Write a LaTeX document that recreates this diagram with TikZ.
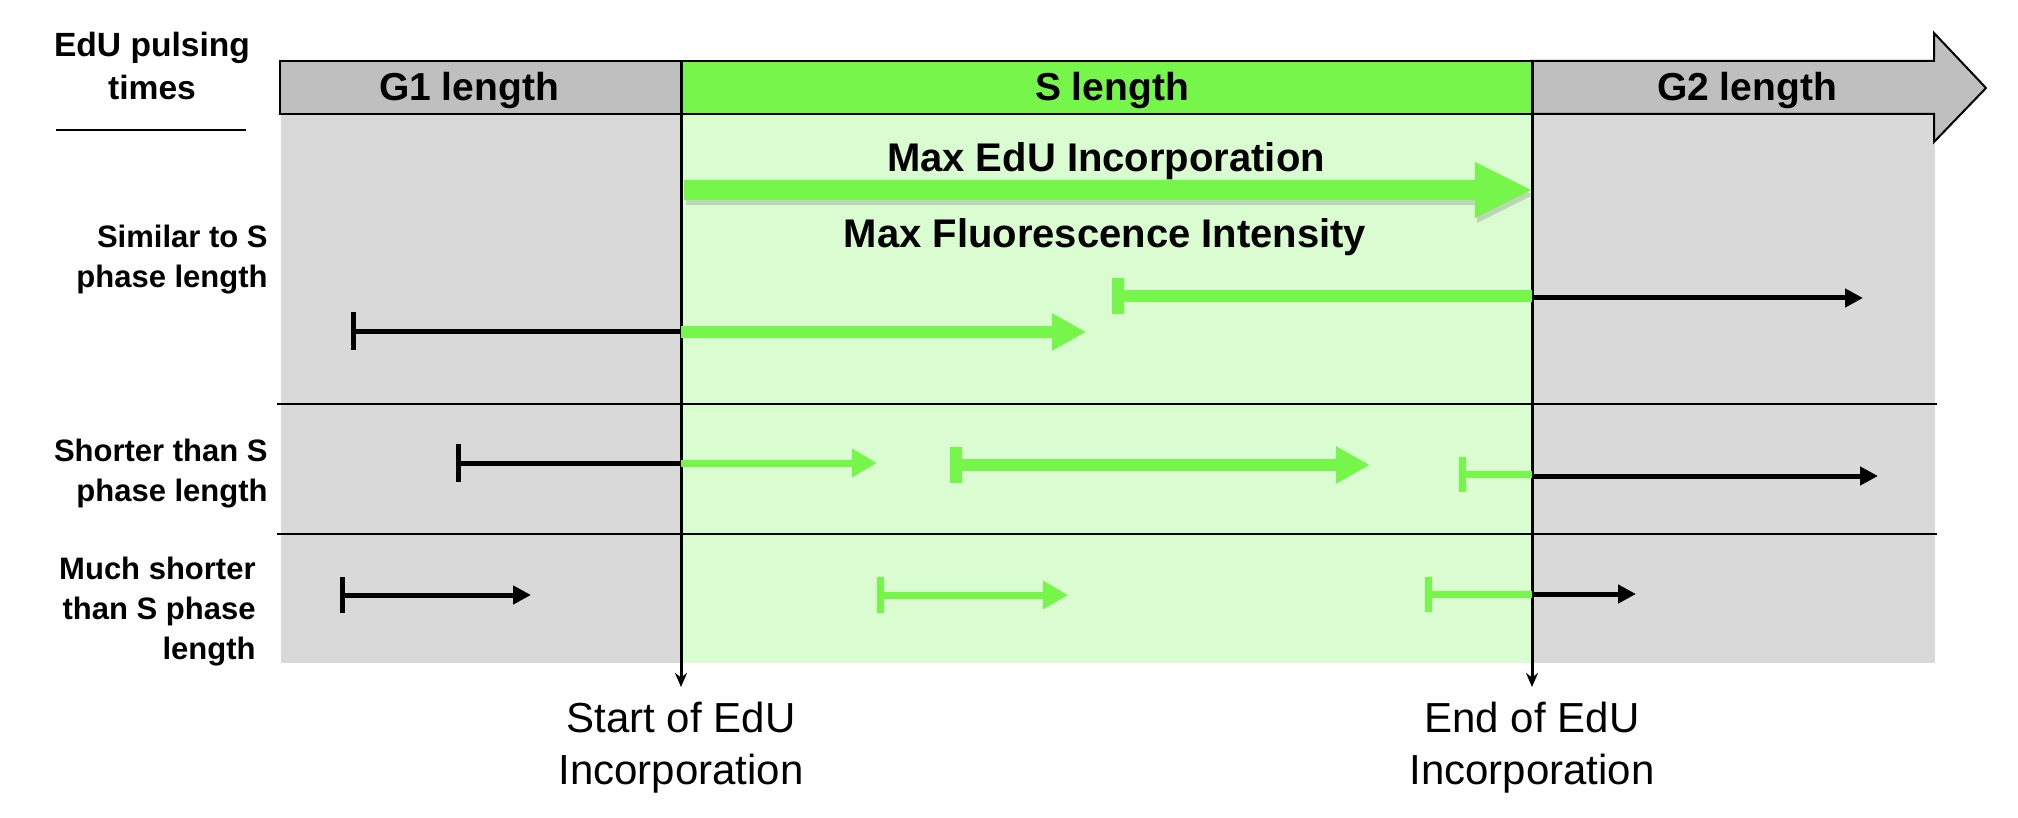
\documentclass[tikz,border=0pt]{standalone}
\usepackage{fontspec}
\setmainfont{Liberation Sans}
\usetikzlibrary{arrows.meta, positioning, shadows}
\definecolor{hdrgray}{RGB}{191,191,191}
\definecolor{bggray}{RGB}{217,217,217}
\definecolor{sgreen}{RGB}{118,246,74}
\definecolor{sgreenlt}{RGB}{217,252,208}
\tikzset{
    hdr/.style={draw=black, line width=1pt},
    sep/.style={line width=1.2pt},
    phase/.style={font=\bfseries\fontsize{19.5}{23}\selectfont, anchor=base},
    bigtext/.style={font=\bfseries\fontsize{20}{24}\selectfont, anchor=base},
    rowlabel/.style={font=\bfseries\fontsize{15.5}{20}\selectfont, align=right, anchor=east, inner sep=0pt},
    marker/.style={font=\fontsize{21}{26}\selectfont, align=center, inner sep=0pt},
    marker line/.style={line width=1.5pt, -{Stealth[length=7pt,width=6pt]}},
    blk/.style={line width=2.5pt},
    blk bar/.style={blk, {Bar[width=19pt]}-},
    blk arrow/.style={blk, -{Triangle[length=9pt,width=9pt]}},
    blk both/.style={blk, {Bar[width=18pt]}-{Triangle[length=9pt,width=9pt]}},
    g thick/.style={sgreen, line width=6pt},
    g thin/.style={sgreen, line width=3.5pt},
    g thick arrow/.style={g thick, -{Triangle[length=17pt,width=17.5pt]}},
    g thick bar/.style={g thick, {Bar[width=18pt]}-},
    g thick both/.style={g thick, {Bar[width=18pt]}-{Triangle[length=17pt,width=17.5pt]}},
    g thin arrow/.style={g thin, -{Triangle[length=12.5pt,width=13.5pt]}},
    g thin bar/.style={g thin, {Bar[width=17.5pt]}-},
    g thin both/.style={g thin, {Bar[width=18pt]}-{Triangle[length=12.5pt,width=13.5pt]}}
}

\begin{document}
\begin{tikzpicture}[x=0.5pt, y=-0.5pt]
    \useasboundingbox (0,0) rectangle (2018,818);
    % phase backgrounds and row lines
    \fill[bggray] (281,114) rectangle (1935,663);
    \fill[sgreenlt] (681,114) rectangle (1532,663);
    \draw[sep] (277,404) -- (1937,404);
    \draw[sep] (277,534) -- (1937,534);
    % cell cycle bar
    \draw[hdr, fill=hdrgray] (280,61) rectangle (681,114);
    \draw[hdr, fill=sgreen] (681,61) rectangle (1532,114);
    \draw[hdr, fill=hdrgray] (1532,61) -- (1934,61) -- (1934,33) -- (1986,88)
        -- (1934,142) -- (1934,114) -- (1532,114) -- cycle;
    \node[phase] (g1) at (469,101) {G1 length};
    \node[phase] (s) at (1112,101) {S length};
    \node[phase] (g2) at (1747,101) {G2 length};
    % start and end of incorporation
    \coordinate (start-top) at (681,61);
    \coordinate (start-tip) at (681,687);
    \coordinate (end-top) at (1532,61);
    \coordinate (end-tip) at (1532,687);
    \draw[marker line] (start-top) -- (start-tip);
    \draw[marker line] (end-top) -- (end-tip);
    \node[marker, below=7.5pt of start-tip] (start-lab) {Start of EdU\\Incorporation};
    \node[marker, below=7.5pt of end-tip] (end-lab) {End of EdU\\Incorporation};
    % row labels
    \node[font=\bfseries\fontsize{16.8}{21.5}\selectfont, align=center] (pulse) at (152,66) {EdU pulsing\\times};
    \draw[line width=1pt] (56,130) -- (246,130);
    \node[rowlabel] (row-sim) at (268,260) {Similar to S\\phase length};
    \node[rowlabel] (row-short) at (268,474) {Shorter than S\\phase length};
    \node[rowlabel] (row-much) at (256,612) {Much shorter\\than S phase\\length};
    % max incorporation
    \fill[sgreen, drop shadow={opacity=0.3, shadow xshift=1pt, shadow yshift=-2.5pt}]
        (684,180) -- (1475,180) -- (1475,162) -- (1531,190) -- (1475,218)
        -- (1475,200) -- (684,200) -- cycle;
    \node[bigtext] (max-edu) at (1106,172) {Max EdU Incorporation};
    \node[bigtext] (max-fl) at (1105,248) {Max Fluorescence Intensity};
    % similar to S phase length
    \draw[blk bar] (351,331) -- (681,331);
    \draw[g thick arrow] (681,332) -- (1086,332);
    \draw[g thick bar] (1112,296) -- (1532,296);
    \draw[blk arrow] (1532,298) -- (1863,298);
    % shorter than S phase length
    \draw[blk bar] (456,463) -- (681,463);
    \draw[g thin arrow] (681,463) -- (877,463);
    \draw[g thick both] (950,465) -- (1370,465);
    \draw[g thin bar] (1459,474) -- (1532,474);
    \draw[blk arrow] (1532,476) -- (1878,476);
    % much shorter than S phase length
    \draw[blk both] (340,595) -- (531,595);
    \draw[g thin both] (877,595) -- (1068,595);
    \draw[g thin bar] (1425,594) -- (1532,594);
    \draw[blk arrow] (1532,594) -- (1636,594);
\end{tikzpicture}
\end{document}
